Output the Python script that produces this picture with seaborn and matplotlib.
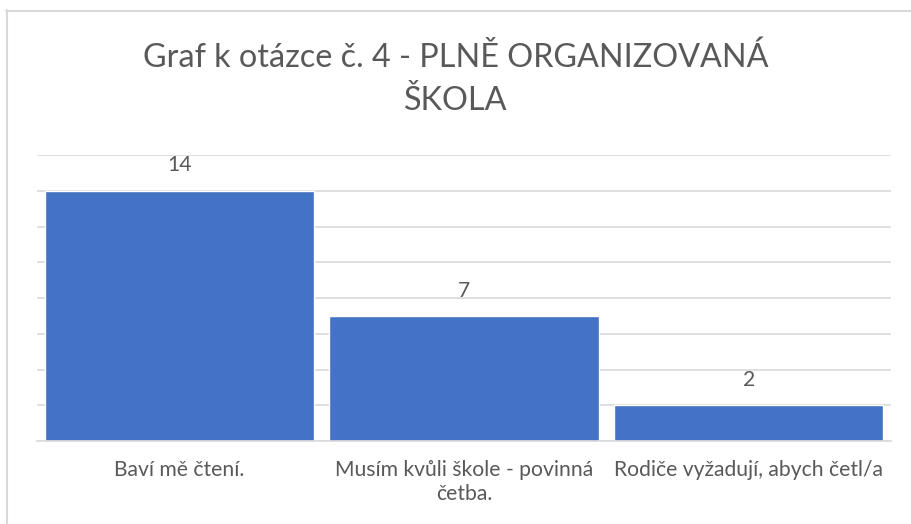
import matplotlib
matplotlib.use("Agg")
import matplotlib.pyplot as plt
import seaborn as sns
from matplotlib.lines import Line2D

# data
odpovedi = ["Baví mě čtení.", "Musím kvůli škole - povinná\nčetba.", "Rodiče vyžadují, abych četl/a"]
pocty = [14, 7, 2]

sns.set_theme(style="white")
plt.rcParams["font.family"] = ["Lato", "DejaVu Sans"]

seda = "#595959"
mrizka = "#d9d9d9"

fig = plt.figure(figsize=(9.11, 5.24), dpi=100)
ax = fig.add_axes([37 / 911, 83 / 524, 854 / 911, 286 / 524])

sns.barplot(x=odpovedi, y=pocty, color="#4472C4", width=0.945, saturation=1, ax=ax, zorder=2)

ax.set_ylim(0, 16)
ax.set_xlim(-0.5, 2.5)
ax.set_yticks(range(0, 17, 2))
ax.yaxis.grid(True, color=mrizka, linewidth=1.2, zorder=0)
ax.set_axisbelow(True)
ax.tick_params(axis="y", left=False, labelleft=False)
ax.tick_params(axis="x", bottom=False, labelsize=15.2, labelcolor=seda, pad=8)
for s in ["top", "right", "left"]:
    ax.spines[s].set_visible(False)
ax.spines["bottom"].set_color(mrizka)
ax.spines["bottom"].set_linewidth(1.2)
ax.set_xlabel("")
ax.set_ylabel("")

for lbl in ax.get_xticklabels():
    lbl.set_linespacing(1.25)

ax.bar_label(ax.containers[0], padding=11, fontsize=15.2, color=seda)

fig.text(0.5, 1 - 79.5 / 524, "Graf k otázce č. 4 - PLNĚ ORGANIZOVANÁ\nŠKOLA",
         ha="center", va="center", fontsize=23.3, color=seda, linespacing=1.53)

# ramecek grafu
fig.add_artist(Line2D([6.5 / 911, 6.5 / 911], [0, 1 - 10 / 524], transform=fig.transFigure,
                      color=mrizka, linewidth=1.5))
fig.add_artist(Line2D([6 / 911, 1], [1 - 10.5 / 524, 1 - 10.5 / 524], transform=fig.transFigure,
                      color=mrizka, linewidth=1.5))

fig.savefig("out.png", dpi=100)
